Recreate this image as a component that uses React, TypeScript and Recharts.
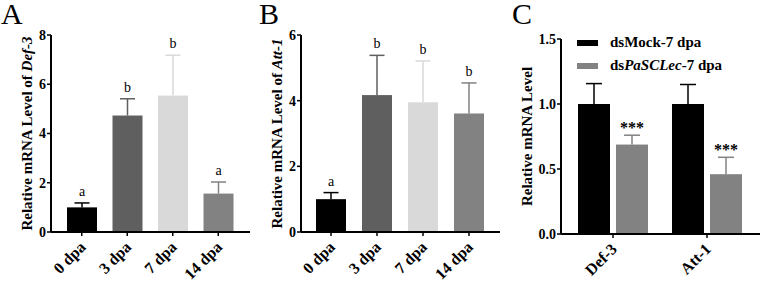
import React from "react";
import { Bar, BarChart, Legend, XAxis, YAxis } from "recharts";

// Panels A/B: expression over days post-infection; C: RNAi knockdown
const stages = ["0 dpa", "3 dpa", "7 dpa", "14 dpa"];
const def3Mean = [1.0, 4.73, 5.54, 1.56];
const def3Sd = [0.18, 0.68, 1.64, 0.47];
const def3Groups = ["a", "b", "b", "a"];
const att1Mean = [1.0, 4.17, 3.95, 3.61];
const att1Sd = [0.2, 1.21, 1.26, 0.93];
const att1Groups = ["a", "b", "b", "b"];

const genes = ["Def-3", "Att-1"];
const mockMean = [1.0, 1.0];
const mockSd = [0.157, 0.15];
const knockMean = [0.688, 0.46];
const knockSd = [0.072, 0.13];
const knockSig = ["***", "***"];

const stageColors = ["#000000", "#5f5f5f", "#d9d9d9", "#828282"];
const MOCK = "#000000";
const KNOCK = "#828282";
const SERIF = "'Liberation Serif', 'Times New Roman', serif";

const def3Data = stages.map((name, i) => ({
	name,
	mean: def3Mean[i],
	sd: def3Sd[i],
	group: def3Groups[i],
	color: stageColors[i],
}));
const att1Data = stages.map((name, i) => ({
	name,
	mean: att1Mean[i],
	sd: att1Sd[i],
	group: att1Groups[i],
	color: stageColors[i],
}));
const rnaiData = genes.map((name, i) => ({
	name,
	mock: mockMean[i],
	mockSd: mockSd[i],
	knock: knockMean[i],
	knockSd: knockSd[i],
	sig: knockSig[i],
}));

// bar + upward-only SD whisker + annotation, sized from the bar's own scale
const whiskerBar =
	(
		valueKey: string,
		sdKey: string,
		// biome-ignore lint/suspicious/noExplicitAny: <explanation>
		colorOf: (p: any) => string,
		// biome-ignore lint/suspicious/noExplicitAny: <explanation>
		labelOf: (p: any) => string | null,
		bold: boolean,
	) =>
	// biome-ignore lint/suspicious/noExplicitAny: <explanation>
	(props: any) => {
		const { x, y, width, height, payload } = props;
		const color = colorOf(payload);
		const ppu = height / payload[valueKey];
		const cx = x + width / 2;
		const top = y - payload[sdKey] * ppu;
		const label = labelOf(payload);
		return (
			<g>
				<rect x={x} y={y} width={width} height={height} fill={color} />
				<line x1={cx} y1={y} x2={cx} y2={top} stroke={color} strokeWidth={1.5} />
				<line x1={cx - width / 4} y1={top} x2={cx + width / 4} y2={top} stroke={color} strokeWidth={1.5} />
				{label && (
					<text
						x={cx}
						y={bold ? top - 2 : top - 7}
						textAnchor="middle"
						fontFamily={SERIF}
						fontSize={bold ? 16 : 14}
						fontWeight={bold ? 700 : 400}
						fill="#000"
					>
						{label}
					</text>
				)}
			</g>
		);
	};

// biome-ignore lint/suspicious/noExplicitAny: <explanation>
const SlantTick = ({ x, y, payload }: any) => (
	<g transform={`translate(${x + 5},${y + 10})`}>
		<text
			x={0}
			y={0}
			textAnchor="end"
			transform="rotate(-45)"
			fontFamily={SERIF}
			fontSize={16}
			fontWeight={700}
			fill="#000"
		>
			{payload.value}
		</text>
	</g>
);

const axisTitle =
	(lead: string, gene?: string) =>
	// biome-ignore lint/suspicious/noExplicitAny: <explanation>
	(props: any) => {
		const vb = props.viewBox;
		const cx = vb.x + 27;
		const cy = vb.y + vb.height / 2;
		return (
			<text
				x={cx}
				y={cy}
				transform={`rotate(-90, ${cx}, ${cy})`}
				textAnchor="middle"
				dominantBaseline="central"
				fontFamily={SERIF}
				fontSize={15}
				fontWeight={700}
				fill="#000"
			>
				{lead}
				{gene && <tspan fontStyle="italic">{gene}</tspan>}
			</text>
		);
	};

const yTick = { fill: "#000", fontSize: 14, fontWeight: 700, fontFamily: SERIF };
const axisLine = { stroke: "#000", strokeWidth: 2 };
const tickLine = { stroke: "#000", strokeWidth: 1.5 };

const RnaiLegend = () => (
	<div style={{ fontFamily: SERIF, fontSize: 15, fontWeight: 700, color: "#000", lineHeight: "23px" }}>
		<div style={{ display: "flex", alignItems: "center", whiteSpace: "nowrap" }}>
			<span style={{ display: "inline-block", width: 21, height: 6, background: MOCK, marginRight: 12 }} />
			dsMock-7 dpa
		</div>
		<div style={{ display: "flex", alignItems: "center", whiteSpace: "nowrap" }}>
			<span style={{ display: "inline-block", width: 21, height: 6, background: KNOCK, marginRight: 12 }} />
			<span>
				ds<i>PaSCLec</i>-7 dpa
			</span>
		</div>
	</div>
);

const StageChart = ({
	data,
	max,
	ticks,
	gene,
	top,
	pad,
}: {
	// biome-ignore lint/suspicious/noExplicitAny: <explanation>
	data: any[];
	max: number;
	ticks: number[];
	gene: string;
	top: number;
	pad: { left: number; right: number };
}) => (
	<BarChart width={260} height={281} data={data} margin={{ top, right: 10, bottom: 0, left: 0 }} barSize={30}>
		<XAxis
			dataKey="name"
			height={281 - 232}
			padding={pad}
			axisLine={axisLine}
			tickLine={tickLine}
			tickSize={4}
			tick={<SlantTick />}
			interval={0}
		/>
		<YAxis
			width={51}
			domain={[0, max]}
			ticks={ticks}
			axisLine={axisLine}
			tickLine={tickLine}
			tickSize={4}
			tickMargin={1}
			tick={yTick}
			label={{ content: axisTitle("Relative mRNA Level of ", gene) }}
		/>
		<Bar
			dataKey="mean"
			isAnimationActive={false}
			shape={whiskerBar("mean", "sd", (p) => p.color, (p) => p.group, false)}
		/>
	</BarChart>
);

export default function App() {
	return (
		<div style={{ position: "absolute", left: 0, top: 0, width: 762, height: 281, background: "#fff" }}>
			<div style={{ position: "absolute", left: 0, top: 0 }}>
				<StageChart
					data={def3Data}
					max={8}
					ticks={[0, 2, 4, 6, 8]}
					gene="Def-3"
					top={35}
					pad={{ left: 8, right: 9 }}
				/>
			</div>
			<div style={{ position: "absolute", left: 250, top: 0 }}>
				<StageChart
					data={att1Data}
					max={6}
					ticks={[0, 2, 4, 6]}
					gene="Att-1"
					top={35}
					pad={{ left: 7, right: 8 }}
				/>
			</div>
			<div style={{ position: "absolute", left: 500, top: 0 }}>
				<BarChart
					width={262}
					height={281}
					data={rnaiData}
					margin={{ top: 39, right: 2, bottom: 0, left: 0 }}
					barSize={32}
					barGap={6}
				>
					<XAxis
						dataKey="name"
						height={281 - 234}
						padding={{ left: 5, right: 6 }}
						axisLine={axisLine}
						tickLine={tickLine}
						tickSize={4}
						tick={<SlantTick />}
						interval={0}
					/>
					<YAxis
						width={61}
						domain={[0, 1.5]}
						ticks={[0, 0.5, 1, 1.5]}
						tickFormatter={(v: number) => v.toFixed(1)}
						axisLine={axisLine}
						tickLine={tickLine}
						tickSize={4}
						tickMargin={1}
						tick={yTick}
						label={{ content: axisTitle("Relative mRNA Level") }}
					/>
					<Legend
						layout="horizontal"
						verticalAlign="middle"
						align="center"
						content={<RnaiLegend />}
						wrapperStyle={{ left: 77, top: 31, width: "auto", height: "auto" }}
					/>
					<Bar
						dataKey="mock"
						isAnimationActive={false}
						shape={whiskerBar("mock", "mockSd", () => MOCK, () => null, true)}
					/>
					<Bar
						dataKey="knock"
						isAnimationActive={false}
						shape={whiskerBar("knock", "knockSd", () => KNOCK, (p) => p.sig, true)}
					/>
				</BarChart>
			</div>
			<svg width={762} height={281} style={{ position: "absolute", left: 0, top: 0, pointerEvents: "none" }}>
				<text x={1} y={24} fontFamily={SERIF} fontSize={30} fill="#000">
					A
				</text>
				<text x={259} y={24} fontFamily={SERIF} fontSize={30} fill="#000">
					B
				</text>
				<text x={512} y={24} fontFamily={SERIF} fontSize={30} fill="#000">
					C
				</text>
			</svg>
		</div>
	);
}
